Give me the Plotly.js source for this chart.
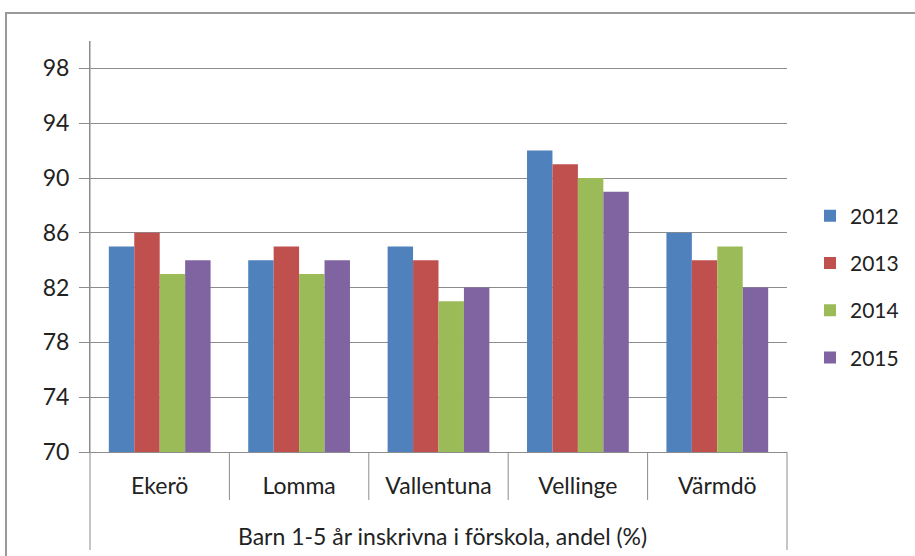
<!DOCTYPE html>
<html>
<head>
<meta charset="utf-8">
<script src="https://cdn.plot.ly/plotly-3.0.1.min.js"></script>
<style>html,body{margin:0;padding:0;background:#fff;}#chart{width:915px;height:556px;}</style>
</head>
<body>
<div id="chart"></div>
<script>
const categories = ["Ekerö", "Lomma", "Vallentuna", "Vellinge", "Värmdö"];
const seriesNames = ["2012", "2013", "2014", "2015"];
const v2012 = [85, 84, 85, 92, 86];
const v2013 = [86, 85, 84, 91, 84];
const v2014 = [83, 83, 81, 90, 85];
const v2015 = [84, 84, 82, 89, 82];
const seriesValues = [v2012, v2013, v2014, v2015];
const colors = ["#4F81BD", "#C0504D", "#9BBB59", "#8064A2"];
const yTicks = [70, 74, 78, 82, 86, 90, 94, 98];
const axisTitle = "Barn 1-5 år inskrivna i förskola, andel (%)";

const FONT = "Lato, 'Open Sans', sans-serif";
const traces = seriesNames.map((name, i) => ({
  type: "bar",
  name: name,
  x: categories,
  y: seriesValues[i],
  marker: {color: colors[i], line: {width: 0}},
  legendgroup: "g" + i,
  hoverinfo: "x+y+name"
}));

const grey = "#8c8c8c";
const belowAxis = (452 - 550) / 411;
const dividerBottom = (452 - 500) / 411;
const shapes = [
  // chart frame
  {type: "rect", xref: "paper", yref: "paper", x0: (6 - 90) / 697, x1: 2, y0: -1, y1: 1 + (41 - 13) / 411,
   line: {color: "#9a9a9a", width: 2}, fillcolor: "rgba(0,0,0,0)", layer: "below"},
  // y axis extension
  {type: "line", xref: "paper", yref: "paper", x0: 0, x1: 0, y0: belowAxis, y1: 1, line: {color: grey, width: 1}},
  // right end boundary
  {type: "line", xref: "paper", yref: "paper", x0: 1, x1: 1, y0: belowAxis, y1: 0, line: {color: grey, width: 1}}
];
for (let i = 0; i < categories.length - 1; i++) {
  shapes.push({type: "line", xref: "x", yref: "paper", x0: i + 0.5, x1: i + 0.5, y0: dividerBottom, y1: 0,
    line: {color: grey, width: 1}});
}

const layout = {
  width: 915, height: 556,
  margin: {l: 90, r: 128, t: 41, b: 104, autoexpand: false},
  paper_bgcolor: "#fff", plot_bgcolor: "#fff",
  font: {family: FONT, color: "#222", size: 23},
  barmode: "group", bargap: 0.27, bargroupgap: 0,
  showlegend: true,
  legend: {xref: "container", yref: "container", x: 810 / 915, xanchor: "left", y: 1 - 287 / 556, yanchor: "middle",
    font: {family: FONT, size: 21, color: "#222"}, tracegroupgap: 17, traceorder: "grouped",
    itemwidth: 30, bgcolor: "rgba(0,0,0,0)"},
  xaxis: {type: "category", showline: true, linecolor: grey, linewidth: 1, ticks: "",
    tickfont: {family: FONT, size: 23, color: "#222"}, ticklabelstandoff: 13, showgrid: false, zeroline: false, fixedrange: true},
  yaxis: {range: [70, 100], tickvals: yTicks, ticktext: yTicks.map(String), ticks: "outside", ticklen: 10,
    tickcolor: grey, tickwidth: 1, showline: true, linecolor: grey, linewidth: 1,
    showgrid: true, gridcolor: grey, gridwidth: 1, zeroline: false,
    tickfont: {family: FONT, size: 23, color: "#222"}, ticklabelstandoff: 5, fixedrange: true},
  shapes: shapes,
  annotations: [{text: axisTitle, xref: "paper", yref: "paper", x: (442 - 90) / 697, y: (452 - 536) / 411,
    xanchor: "center", yanchor: "middle", showarrow: false, font: {family: FONT, size: 23, color: "#222"}}]
};
Plotly.newPlot("chart", traces, layout, {displayModeBar: false, staticPlot: true});
</script>
</body>
</html>
